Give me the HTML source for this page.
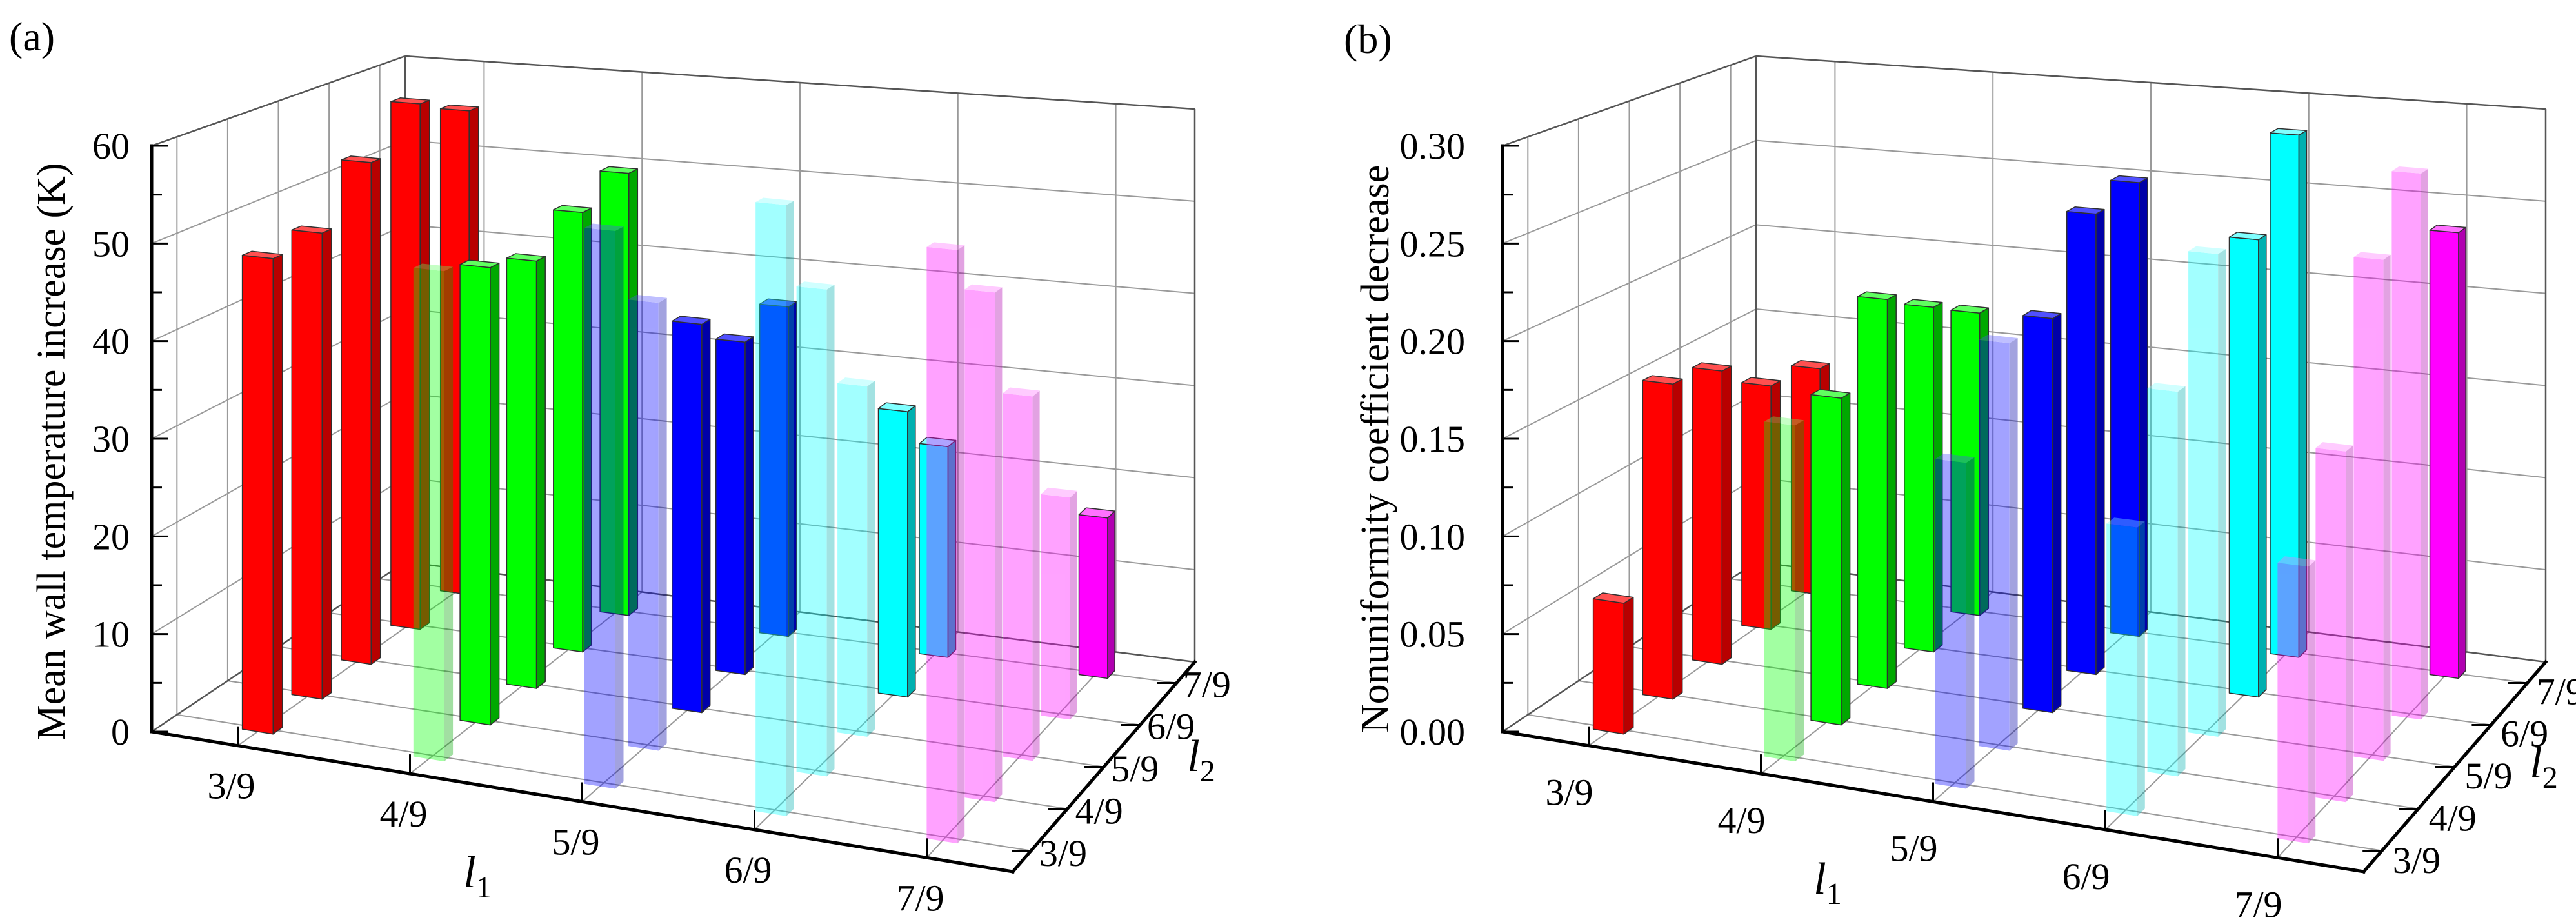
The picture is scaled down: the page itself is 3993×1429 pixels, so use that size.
<!DOCTYPE html>
<html><head><meta charset="utf-8"><title>3D bar charts</title>
<style>html,body{margin:0;padding:0;background:#fff}svg{display:block;font-family:"Liberation Serif",serif}</style>
</head><body>
<svg id="fig" xmlns="http://www.w3.org/2000/svg" width="3993" height="1429" viewBox="0 0 3993 1429"></svg>
<script>
// ---- data ----
const l1Cats = ['3/9','4/9','5/9','6/9','7/9'];
const l2Cats = ['3/9','4/9','5/9','6/9','7/9'];
// panel (a): mean wall temperature increase (K), each array over l2 = 3/9..7/9
const aRed     = [48.7, 49.1, 54.4, 58.7, 55.7];
const aGreen   = [49.3, 47.3, 45.5, 48.2, 50.0];
const aBlue    = [55.1, 45.5, 40.6, 35.8, 36.6];
const aCyan    = [59.3, 48.6, 36.0, 30.2, 23.0];
const aMagenta = [56.6, 50.0, 36.8, 23.1, 17.2];
// panel (b): nonuniformity coefficient decrease
const bRed     = [0.067, 0.166, 0.159, 0.136, 0.130];
const bGreen   = [0.169, 0.169, 0.207, 0.189, 0.171];
const bBlue    = [0.161, 0.207, 0.206, 0.248, 0.252];
const bCyan    = [0.140, 0.192, 0.248, 0.242, 0.285];
const bMagenta = [0.132, 0.172, 0.253, 0.284, 0.239];
// opaque (1) or translucent (0) bars, per l1 group over l2
const solidRed     = [1,1,1,1,1];
const solidGreen   = [0,1,1,1,1];
const solidBlue    = [0,0,1,1,1];
const solidCyan    = [0,0,0,1,1];
const solidMagenta = [0,0,0,0,1];
const zTicksA = [0,10,20,30,40,50,60];
const zLabelsA = ['0','10','20','30','40','50','60'];
const zTicksB = [0,0.05,0.10,0.15,0.20,0.25,0.30];
const zLabelsB = ['0.00','0.05','0.10','0.15','0.20','0.25','0.30'];

const NS = 'http://www.w3.org/2000/svg';
const svg = document.getElementById('fig');
function mk(tag, attrs, parent){
  const e = document.createElementNS(NS, tag);
  for (const k in attrs) e.setAttribute(k, attrs[k]);
  (parent||svg).appendChild(e);
  return e;
}
const colors = [
  {f:'#ff0000', s:'#b80000', t:'#ff5050'},
  {f:'#00ff00', s:'#00a800', t:'#60ff60'},
  {f:'#0000ff', s:'#0000a8', t:'#5050ff'},
  {f:'#00ffff', s:'#00b0b0', t:'#80ffff'},
  {f:'#ff00ff', s:'#b000b0', t:'#ff70ff'}
];

function makeProj(dx, zmax){
  const FL0=[235+dx,1134], FR0=[1570+dx,1351], BR0=[1852+dx,1026], BL0=[628+dx,871];
  const FL1=[235+dx,226], FR1=[1570+dx,358], BR1=[1852+dx,169], BL1=[628+dx,87];
  function bil(a,b,c,d,u,v){
    return [a[0]*(1-u)*(1-v)+b[0]*u*(1-v)+c[0]*(1-u)*v+d[0]*u*v,
            a[1]*(1-u)*(1-v)+b[1]*u*(1-v)+c[1]*(1-u)*v+d[1]*u*v];
  }
  return function(u,v,z){
    const t = z/zmax;
    const p0 = bil(FL0,FR0,BL0,BR0,u,v), p1 = bil(FL1,FR1,BL1,BR1,u,v);
    return [p0[0]*(1-t)+p1[0]*t, p0[1]*(1-t)+p1[1]*t];
  };
}
function pts(arr){ return arr.map(p=>p[0].toFixed(1)+','+p[1].toFixed(1)).join(' '); }

function drawPanel(cfg){
  const P = makeProj(cfg.dx, cfg.zmax);
  const g = mk('g', {});
  
  
  const grid = mk('g', {stroke:'#9a9a9a','stroke-width':2, fill:'none'}, g);
  
  
  const uT = l1Cats.map((c,i)=>(i+0.5)/l1Cats.length);
  const vT = l2Cats.map((c,i)=>(i+0.5)/l2Cats.length);
  function line(a,b,par,attrs){ return mk('line', Object.assign({x1:a[0],y1:a[1],x2:b[0],y2:b[1]},attrs||{}), par); }
  cfg.zTicks.forEach(z=>{
    line(P(0,0,z),P(0,1,z),grid);
    line(P(0,1,z),P(1,1,z),grid);
  });
  uT.forEach(u=>{ line(P(u,0,0),P(u,1,0),grid); line(P(u,1,0),P(u,1,cfg.zmax),grid); });
  vT.forEach(v=>{ line(P(0,v,0),P(1,v,0),grid); line(P(0,v,0),P(0,v,cfg.zmax),grid); });
  const edges = mk('g', {stroke:'#555','stroke-width':2.5, fill:'none'}, g);
  
  
  line(P(0,0,0),P(0,1,0),edges);
  line(P(0,1,0),P(1,1,0),edges);
  line(P(0,1,0),P(0,1,cfg.zmax),edges);
  line(P(1,1,0),P(1,1,cfg.zmax),edges);
  line(P(0,0,cfg.zmax),P(0,1,cfg.zmax),edges);
  line(P(0,1,cfg.zmax),P(1,1,cfg.zmax),edges);

  const bars = [];
  cfg.series.forEach((vals,i)=>{
    vals.forEach((val,j)=>bars.push({i,j,val,solid:cfg.solid[i][j]}));
  });
  bars.sort((a,b)=> (b.j-a.j) || (a.i-b.i));
  const hu=0.018, hv=0.019;
  const barG = mk('g', {}, g);
  
  
  bars.forEach(b=>{
    const u=uT[b.i], v=vT[b.j], h=b.val, c=colors[b.i];
    const bg = mk('g', b.solid ? {stroke:'#303030','stroke-width':1.5,'stroke-linejoin':'round'} : {opacity:0.36}, barG);
    
    
    mk('polygon', {points:pts([P(u-hu,v-hv,0),P(u+hu,v-hv,0),P(u+hu,v-hv,h),P(u-hu,v-hv,h)]), fill:c.f}, bg);
    mk('polygon', {points:pts([P(u+hu,v-hv,0),P(u+hu,v+hv,0),P(u+hu,v+hv,h),P(u+hu,v-hv,h)]), fill:c.s}, bg);
    mk('polygon', {points:pts([P(u-hu,v-hv,h),P(u+hu,v-hv,h),P(u+hu,v+hv,h),P(u-hu,v+hv,h)]), fill:c.t}, bg);
  });

  const ax = mk('g', {stroke:'#000','stroke-width':5,'stroke-linecap':'square', fill:'none'}, g);
  
  
  line(P(0,0,0),P(0,0,cfg.zmax),ax);
  line(P(0,0,0),P(1,0,0),ax);
  line(P(1,0,0),P(1,1,0),ax);
  const tk = mk('g', {stroke:'#000','stroke-width':3}, g);
  
  
  cfg.zTicks.forEach((z,k)=>{
    const p=P(0,0,z); line(p,[p[0]+26,p[1]],tk);
    if (k<cfg.zTicks.length-1){ const q=P(0,0,(z+cfg.zTicks[k+1])/2); line(q,[q[0]+16,q[1]],tk); }
  });
  uT.forEach(u=>{ const p=P(u,0,0); line(p,[p[0],p[1]-30],tk); });
  vT.forEach(v=>{ const p=P(1,v,0); line(p,[p[0]-30,p[1]],tk); });

  const txt = mk('g', {fill:'#000','font-family':'"Liberation Serif", serif'}, g);
  cfg.zLabels.forEach((s,k)=>{
    const p=P(0,0,cfg.zTicks[k]);
    const t=mk('text',{x:p[0]-cfg.zGap,y:p[1]+20,'font-size':58,'text-anchor':'end'},txt);
    
    
    t.textContent=s;
  });
  l1Cats.forEach((s,i)=>{
    const p=P(uT[i],0,0);
    const t=mk('text',{x:p[0]+cfg.l1Off[0],y:p[1]+cfg.l1Off[1]+20,'font-size':58,'text-anchor':'middle'},txt);
    
    
    t.textContent=s;
  });
  l2Cats.forEach((s,j)=>{
    const p=P(1.03,vT[j],0);
    const t=mk('text',{x:p[0]+cfg.l2Off[0],y:p[1]+cfg.l2Off[1]+20,'font-size':58,'text-anchor':'middle'},txt);
    
    
    t.textContent=s;
  });
  const zt=mk('text',{x:0,y:0,'font-size':62,'text-anchor':'middle',transform:'translate('+cfg.zTitle[0]+','+cfg.zTitle[1]+') rotate(-90)'},txt);
  
  
  zt.textContent=cfg.zTitleText;
  function sub(pos, n, nm){
    const t=mk('text',{x:pos[0],y:pos[1],'font-size':70,'text-anchor':'middle'},txt);
    
    
    const a=mk('tspan',{'font-style':'italic'},t); a.textContent='l';
    const b=mk('tspan',{'font-size':48,dy:16},t); b.textContent=n;
  }
  sub(cfg.l1Title,'1','l1-axis-title');
  sub(cfg.l2Title,'2','l2-axis-title');
  const pl=mk('text',{x:cfg.tag[0],y:cfg.tag[1],'font-size':64},txt);
  
  
  pl.textContent=cfg.tagText;
}

drawPanel({name:'panel-a', dx:0, zmax:60, zTicks:zTicksA, zLabels:zLabelsA, zGap:34,
  series:[aRed,aGreen,aBlue,aCyan,aMagenta],
  solid:[solidRed,solidGreen,solidBlue,solidCyan,solidMagenta],
  l1Off:[-10,62], l2Off:[10,-3], zTitle:[100,700], zTitleText:'Mean wall temperature increase (K)',
  l1Title:[740,1375], l2Title:[1862,1195], tag:[14,78], tagText:'(a)'});
drawPanel({name:'panel-b', dx:2094, zmax:0.30, zTicks:zTicksB, zLabels:zLabelsB, zGap:58,
  series:[bRed,bGreen,bBlue,bCyan,bMagenta],
  solid:[solidRed,solidGreen,solidBlue,solidCyan,solidMagenta],
  l1Off:[-30,72], l2Off:[14,8], zTitle:[2152,696], zTitleText:'Nonuniformity coefficient decrease',
  l1Title:[2833,1385], l2Title:[3943,1205], tag:[2083,82], tagText:'(b)'});
</script>
</body></html>
